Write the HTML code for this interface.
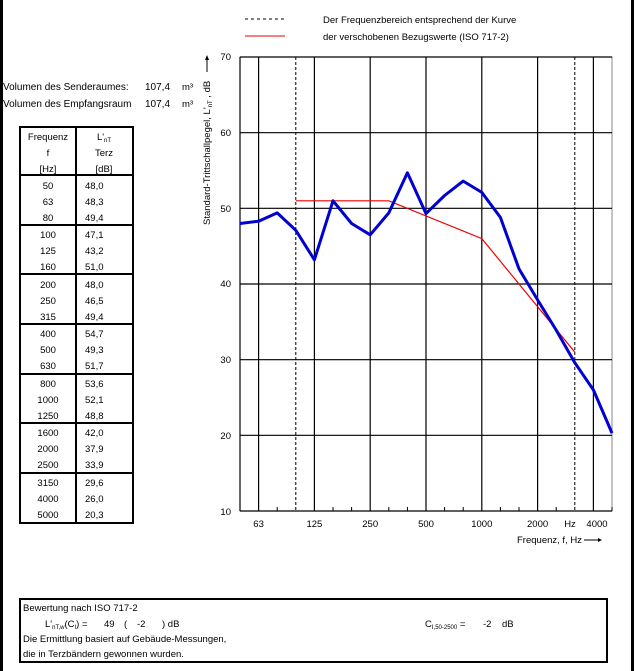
<!DOCTYPE html>
<html><head><meta charset="utf-8"><style>
body{margin:0;background:#fff}
svg{display:block;font-family:"Liberation Sans",sans-serif}
</style></head><body>
<svg width="635" height="671" viewBox="0 0 635 671" xmlns="http://www.w3.org/2000/svg">
<rect x="0" y="0" width="3" height="671" fill="#000"/>
<rect x="631" y="0" width="3" height="671" fill="#000"/>
<line x1="245" y1="19" x2="285" y2="19" stroke="#000" stroke-dasharray="3,3"/>
<line x1="245" y1="36" x2="285" y2="36" stroke="#e00" stroke-width="1"/>
<g font-size="9.5">
<text x="323" y="23">Der Frequenzbereich entsprechend der Kurve</text>
<text x="323" y="40">der verschobenen Bezugswerte (ISO 717-2)</text>
<text x="3" y="90" font-size="10">Volumen des Senderaumes:</text>
<text x="145" y="90" font-size="10">107,4</text><text x="182" y="90">m³</text>
<text x="3" y="107" font-size="10">Volumen des Empfangsraum</text>
<text x="145" y="107" font-size="10">107,4</text><text x="182" y="107">m³</text>
</g>
<g stroke="#000" fill="none">
<rect x="20" y="127" width="113" height="396" stroke-width="2"/>
<line x1="76" y1="127" x2="76" y2="523" stroke-width="2"/>
<line x1="20" y1="175" x2="133" y2="175" stroke-width="2"/>
<line x1="20" y1="225" x2="133" y2="225" stroke-width="2"/>
<line x1="20" y1="274" x2="133" y2="274" stroke-width="2"/>
<line x1="20" y1="324" x2="133" y2="324" stroke-width="2"/>
<line x1="20" y1="374" x2="133" y2="374" stroke-width="2"/>
<line x1="20" y1="423" x2="133" y2="423" stroke-width="2"/>
<line x1="20" y1="473" x2="133" y2="473" stroke-width="2"/>
</g>
<g font-size="9.5">
<text x="48" y="140" text-anchor="middle">Frequenz</text>
<text x="48" y="156" text-anchor="middle">f</text>
<text x="48" y="172" text-anchor="middle">[Hz]</text>
<text x="104" y="140" text-anchor="middle">L'<tspan font-size="6" dy="2">nT</tspan></text>
<text x="104" y="156" text-anchor="middle">Terz</text>
<text x="104" y="172" text-anchor="middle">[dB]</text>
</g>
<g font-size="9.5">
<g text-anchor="middle">
<text x="48" y="189">50</text><text x="48" y="205">63</text><text x="48" y="221">80</text>
<text x="48" y="238">100</text><text x="48" y="254">125</text><text x="48" y="270">160</text>
<text x="48" y="288">200</text><text x="48" y="304">250</text><text x="48" y="320">315</text>
<text x="48" y="337">400</text><text x="48" y="353">500</text><text x="48" y="369">630</text>
<text x="48" y="387">800</text><text x="48" y="403">1000</text><text x="48" y="419">1250</text>
<text x="48" y="436">1600</text><text x="48" y="452">2000</text><text x="48" y="468">2500</text>
<text x="48" y="486">3150</text><text x="48" y="502">4000</text><text x="48" y="518">5000</text>
</g>
<g>
<text x="85" y="189">48,0</text><text x="85" y="205">48,3</text><text x="85" y="221">49,4</text>
<text x="85" y="238">47,1</text><text x="85" y="254">43,2</text><text x="85" y="270">51,0</text>
<text x="85" y="288">48,0</text><text x="85" y="304">46,5</text><text x="85" y="320">49,4</text>
<text x="85" y="337">54,7</text><text x="85" y="353">49,3</text><text x="85" y="369">51,7</text>
<text x="85" y="387">53,6</text><text x="85" y="403">52,1</text><text x="85" y="419">48,8</text>
<text x="85" y="436">42,0</text><text x="85" y="452">37,9</text><text x="85" y="468">33,9</text>
<text x="85" y="486">29,6</text><text x="85" y="502">26,0</text><text x="85" y="518">20,3</text>
</g>
</g>
<rect x="240" y="57" width="372" height="454" fill="none" stroke="#888" stroke-width="1"/>
<g stroke="#000" stroke-width="1.2">
<line x1="240" y1="57" x2="612" y2="57"/>
<line x1="240" y1="132.7" x2="612" y2="132.7"/>
<line x1="240" y1="208.3" x2="612" y2="208.3"/>
<line x1="240" y1="284" x2="612" y2="284"/>
<line x1="240" y1="359.7" x2="612" y2="359.7"/>
<line x1="240" y1="435.3" x2="612" y2="435.3"/>
<line x1="240" y1="511" x2="612" y2="511"/>
<line x1="240" y1="57" x2="240" y2="511"/>
<line x1="258.6" y1="57" x2="258.6" y2="511"/>
<line x1="314.4" y1="57" x2="314.4" y2="511"/>
<line x1="370.2" y1="57" x2="370.2" y2="511"/>
<line x1="426" y1="57" x2="426" y2="511"/>
<line x1="481.8" y1="57" x2="481.8" y2="511"/>
<line x1="537.6" y1="57" x2="537.6" y2="511"/>
<line x1="593.4" y1="57" x2="593.4" y2="511"/>
</g>
<g stroke="#000" stroke-dasharray="3,2">
<line x1="295.8" y1="57" x2="295.8" y2="511"/>
<line x1="574.8" y1="57" x2="574.8" y2="511"/>
</g>
<g stroke="#000">
<path d="M277.2 511v-4M333 511v-4M351.6 511v-4M388.8 511v-4M407.4 511v-4M444.6 511v-4M463.2 511v-4M500.4 511v-4M519 511v-4M556.2 511v-4M612 511v-4"/>
</g>
<polyline fill="none" stroke="#e00" stroke-width="1.2" points="295.8,200.8 388.8,200.8 481.8,238.6 574.8,352.1"/>
<polyline fill="none" stroke="#0000d0" stroke-width="3" stroke-linejoin="round" points="240,223.5 258.6,221.2 277.2,212.9 295.8,230.3 314.4,259.8 333,200.8 351.6,223.5 370.2,234.8 388.8,212.9 407.4,172.8 426,213.6 444.6,195.5 463.2,181.1 481.8,192.4 500.4,217.4 519,268.9 537.6,299.9 556.2,330.1 574.8,362.7 593.4,389.9 612,433.1"/>
<g font-size="9.5" text-anchor="end">
<text x="231" y="60">70</text><text x="231" y="136">60</text><text x="231" y="212">50</text>
<text x="231" y="287">40</text><text x="231" y="363">30</text><text x="231" y="439">20</text>
<text x="231" y="515">10</text>
</g>
<g font-size="9.5" text-anchor="middle">
<text x="258.6" y="527">63</text><text x="314.4" y="527">125</text><text x="370.2" y="527">250</text>
<text x="426" y="527">500</text><text x="481.8" y="527">1000</text><text x="537.6" y="527">2000</text>
<text x="570" y="527">Hz</text><text x="597" y="527">4000</text>
</g>
<text x="517" y="543" font-size="9.5">Frequenz, f, Hz</text>
<line x1="584" y1="540" x2="598" y2="540" stroke="#000"/><path d="M598 538l4 2-4 2z" fill="#000"/>
<g transform="translate(210,225) rotate(-90)">
<text x="0" y="0" font-size="9.5">Standard-Trittschallpegel, L'<tspan font-size="6" dy="2">nT</tspan><tspan dy="-2"> , dB</tspan></text>
</g>
<line x1="207" y1="58" x2="207" y2="72" stroke="#000"/><path d="M205 60l2-5 2 5z" fill="#000"/>
<rect x="20" y="599" width="587" height="63" fill="none" stroke="#000" stroke-width="2"/>
<g font-size="9.5">
<text x="23" y="611">Bewertung nach ISO 717-2</text>
<text x="45" y="627">L'<tspan font-size="6" dy="2">nT,w</tspan><tspan dy="-2">(C</tspan><tspan font-size="6" dy="2">I</tspan><tspan dy="-2">) =</tspan></text>
<text x="104" y="627">49</text><text x="124" y="627">(</text><text x="137" y="627">-2</text><text x="162" y="627">) dB</text>
<text x="425" y="627">C<tspan font-size="6" dy="2">I,50-2500</tspan><tspan dy="-2"> =</tspan></text>
<text x="483" y="627">-2</text><text x="502" y="627">dB</text>
<text x="23" y="642">Die Ermittlung basiert auf Gebäude-Messungen,</text>
<text x="23" y="657">die in Terzbändern gewonnen wurden.</text>
</g>
</svg>
</body></html>
